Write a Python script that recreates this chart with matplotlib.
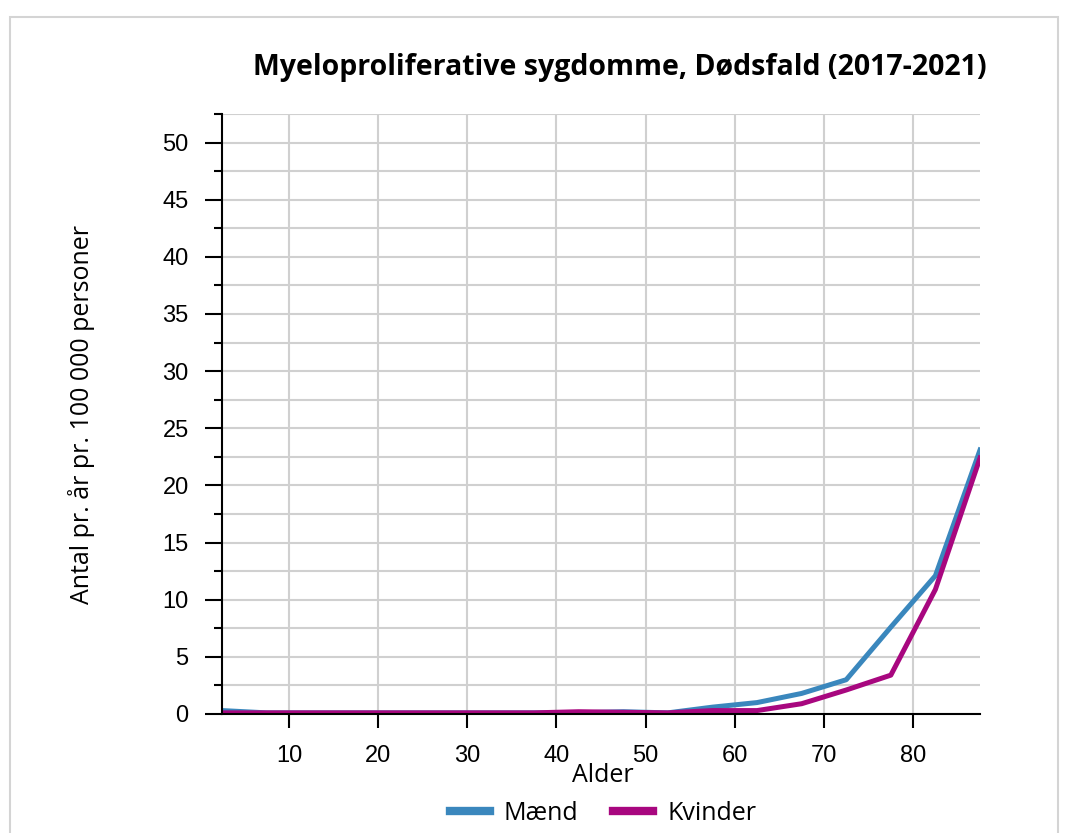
import matplotlib.pyplot as plt
from matplotlib.patches import Rectangle
import numpy as np

alder = [2.5, 7.5, 12.5, 17.5, 22.5, 27.5, 32.5, 37.5, 42.5, 47.5,
         52.5, 57.5, 62.5, 67.5, 72.5, 77.5, 82.5, 87.5]
maend = [0.3, 0.1, 0.1, 0.1, 0.1, 0.1, 0.1, 0.1, 0.1, 0.2,
         0.1, 0.6, 1.0, 1.8, 3.0, 7.6, 12.1, 23.1]
kvinder = [0.1, 0.1, 0.1, 0.1, 0.1, 0.1, 0.1, 0.1, 0.2, 0.15,
           0.1, 0.3, 0.3, 0.9, 2.1, 3.4, 10.9, 22.4]

blue = '#3a87bd'
magenta = '#a8077f'

fig = plt.figure(figsize=(10.74, 8.33), dpi=100)
fig.patches.append(Rectangle((10 / 1074, -0.05), 1048 / 1074, 1 - 17 / 833 + 0.05,
                             transform=fig.transFigure, fill=False,
                             edgecolor='#d4d4d4', linewidth=1.5))

ax = fig.add_axes([222 / 1074, 1 - 714 / 833, 758 / 1074, 600 / 833])
ax.plot(alder, maend, color=blue, lw=3.6, label='Mænd')
ax.plot(alder, kvinder, color=magenta, lw=3.6, label='Kvinder')

ax.set_xlim(2.5, 87.5)
ax.set_ylim(0, 52.5)
ax.set_xticks(np.arange(10, 81, 10))
ax.set_yticks(np.arange(0, 51, 5))
ax.set_yticks(np.arange(2.5, 53, 5), minor=True)
ax.grid(True, which='both', axis='y', color='#d0d0d0', lw=1.5)
ax.grid(True, which='major', axis='x', color='#d0d0d0', lw=1.5)
ax.set_axisbelow(True)
for s in ['top', 'right']:
    ax.spines[s].set_visible(False)
for s in ['left', 'bottom']:
    ax.spines[s].set_linewidth(1.5)
ax.tick_params(axis='y', which='major', length=12, width=1.5, labelsize=17, pad=12)
ax.tick_params(axis='y', which='minor', length=6, width=1.5)
ax.tick_params(axis='x', which='major', length=10, width=1.5, labelsize=17, pad=12)
for lab in ax.get_xticklabels() + ax.get_yticklabels():
    lab.set_family(['Liberation Sans', 'DejaVu Sans'])

fig.text(620 / 1074, 1 - 68 / 833, 'Myeloproliferative sygdomme, Dødsfald (2017-2021)',
         ha='center', va='center', fontsize=20.5, fontweight='bold',
         family=['Open Sans', 'DejaVu Sans'])
fig.text(603 / 1074, 1 - 776 / 833, 'Alder', ha='center', va='center', fontsize=18,
         family=['Open Sans', 'DejaVu Sans'])
fig.text(82 / 1074, 1 - 415 / 833, 'Antal pr. år pr. 100 000 personer', ha='center',
         va='center', rotation=90, fontsize=18, family=['Open Sans', 'DejaVu Sans'])

leg = fig.legend(loc='center', bbox_to_anchor=(603 / 1074, 1 - 813 / 833), ncol=2,
                 frameon=False, handlelength=1.6, columnspacing=1.4,
                 handletextpad=0.55, prop={'family': ['Open Sans', 'DejaVu Sans'], 'size': 18})
for h in leg.get_lines():
    h.set_linewidth(6)

fig.savefig('out.png', dpi=100)
